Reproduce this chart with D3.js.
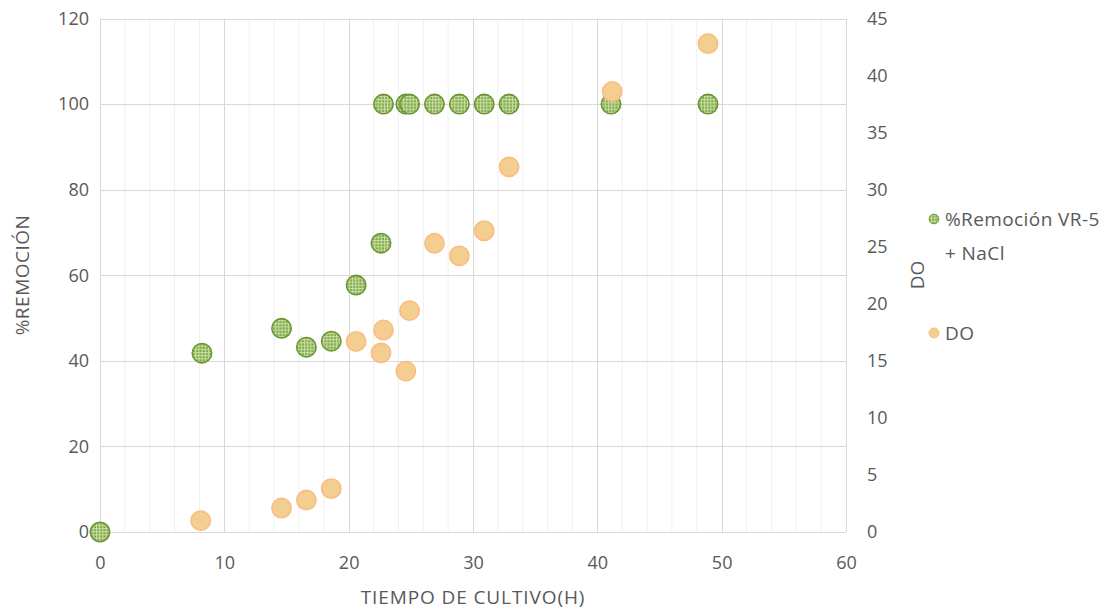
<!DOCTYPE html>
<html>
<head>
<meta charset="utf-8">
<script src="https://cdn.jsdelivr.net/npm/d3@7"></script>
<style>
  html, body { margin: 0; padding: 0; background: #ffffff; }
  svg { display: block; }
  text { font-family: "Open Sans", "Liberation Sans", sans-serif; fill: #595959; }
</style>
</head>
<body>
<svg id="chart" width="1118" height="609"></svg>
<script>
// Tiempo de cultivo (h) y % de remoción VR-5 + NaCl
const horasRemocion = [0, 8.2, 14.6, 16.6, 18.6, 20.6, 22.6, 22.8, 24.6, 24.9, 26.9, 28.9, 30.9, 32.9, 41.1, 48.9];
const remocion      = [0, 41.8, 47.6, 43.2, 44.6, 57.7, 67.5, 100, 100, 100, 100, 100, 100, 100, 100, 100];

// Tiempo de cultivo (h) y densidad óptica (DO)
const horasDO = [8.1, 14.6, 16.6, 18.6, 20.6, 22.6, 22.8, 24.6, 24.9, 26.9, 28.9, 30.9, 32.9, 41.2, 48.9];
const densidad = [1.0, 2.1, 2.8, 3.8, 16.7, 15.7, 17.7, 14.1, 19.4, 25.3, 24.2, 26.4, 32.0, 38.6, 42.8];

const xTicks = [0, 10, 20, 30, 40, 50, 60];
const yLeftTicks = [0, 20, 40, 60, 80, 100, 120];
const yRightTicks = [0, 5, 10, 15, 20, 25, 30, 35, 40, 45];

const seriesNames = ["%Remoción VR-5", "+ NaCl", "DO"];

const svg = d3.select("#chart");
const plot = { left: 100, right: 846, top: 18.5, bottom: 532 };

const x = d3.scaleLinear().domain([0, 60]).range([plot.left, plot.right]);
const yL = d3.scaleLinear().domain([0, 120]).range([plot.bottom, plot.top]);
const yR = d3.scaleLinear().domain([0, 45]).range([plot.bottom, plot.top]);

// Textured fill for the removal markers
const defs = svg.append("defs");
const pat = defs.append("pattern")
  .attr("id", "malla").attr("patternUnits", "userSpaceOnUse")
  .attr("width", 3.2).attr("height", 3.2);
pat.append("rect").attr("width", 3.2).attr("height", 3.2).attr("fill", "#84ac4c");
pat.append("rect").attr("x", 0).attr("y", 0).attr("width", 3.2).attr("height", 1).attr("fill", "#c9dea6");
pat.append("rect").attr("x", 0).attr("y", 0).attr("width", 1).attr("height", 3.2).attr("fill", "#c9dea6");

// Minor vertical gridlines
const g = svg.append("g");
g.selectAll("line.minor")
  .data(d3.range(0, 61, 2).filter(v => v % 10 !== 0))
  .join("line")
  .attr("x1", d => x(d)).attr("x2", d => x(d))
  .attr("y1", plot.top).attr("y2", plot.bottom)
  .attr("stroke", "#f0f0f0").attr("stroke-width", 1);

// Major gridlines
g.selectAll("line.vmajor")
  .data(xTicks)
  .join("line")
  .attr("x1", d => Math.round(x(d)) + 0.5).attr("x2", d => Math.round(x(d)) + 0.5)
  .attr("y1", plot.top).attr("y2", plot.bottom)
  .attr("stroke", "#d9d9d9").attr("stroke-width", 1);

svg.append("g").selectAll("line")
  .data(yLeftTicks)
  .join("line")
  .attr("x1", plot.left).attr("x2", plot.right)
  .attr("y1", d => Math.round(yL(d)) + 0.5).attr("y2", d => Math.round(yL(d)) + 0.5)
  .attr("stroke", "#d9d9d9").attr("stroke-width", 1);

// Axes (labels only, lines come from the grid)
const axBottom = svg.append("g")
  .attr("transform", `translate(0,${plot.bottom})`)
  .call(d3.axisBottom(x).tickValues(xTicks).tickSize(0).tickPadding(24));
const axLeft = svg.append("g")
  .attr("transform", `translate(${plot.left},0)`)
  .call(d3.axisLeft(yL).tickValues(yLeftTicks).tickSize(0).tickPadding(11));
const axRight = svg.append("g")
  .attr("transform", `translate(${plot.right},0)`)
  .call(d3.axisRight(yR).tickValues(yRightTicks).tickSize(0).tickPadding(21));
[axBottom, axLeft, axRight].forEach(a => {
  a.select(".domain").remove();
  a.selectAll("text").style("font-size", "18px").attr("fill", "#595959")
    .style("font-family", "'Open Sans', 'Liberation Sans', sans-serif");
});

// Axis titles
svg.append("text")
  .attr("x", x(30)).attr("y", 604)
  .attr("text-anchor", "middle").style("font-size", "19px").style("letter-spacing", "0.9px")
  .text("TIEMPO DE CULTIVO(H)");
svg.append("text")
  .attr("transform", `translate(29,${275}) rotate(-90)`)
  .attr("text-anchor", "middle").style("font-size", "19px").style("letter-spacing", "0.5px")
  .text("%REMOCIÓN");
svg.append("text")
  .attr("transform", `translate(924,${275}) rotate(-90)`)
  .attr("text-anchor", "middle").style("font-size", "19px")
  .text("DO");

// Removal series
svg.append("g").selectAll("circle")
  .data(horasRemocion.map((h, i) => [h, remocion[i]]))
  .join("circle")
  .attr("cx", d => x(d[0])).attr("cy", d => yL(d[1]))
  .attr("r", 9.7)
  .attr("fill", "url(#malla)")
  .attr("stroke", "#6a9632").attr("stroke-width", 1.6);

// Optical density series
svg.append("g").selectAll("circle")
  .data(horasDO.map((h, i) => [h, densidad[i]]))
  .join("circle")
  .attr("cx", d => x(d[0])).attr("cy", d => yR(d[1]))
  .attr("r", 9.7)
  .attr("fill", "#f4cd90")
  .attr("stroke", "#f8bd82").attr("stroke-width", 1.5);

// Legend
const lg = svg.append("g");
lg.append("circle").attr("cx", 934).attr("cy", 219).attr("r", 4.8)
  .attr("fill", "url(#malla)").attr("stroke", "#6a9632").attr("stroke-width", 1);
lg.append("text").attr("x", 945).attr("y", 226).style("font-size", "19px").style("letter-spacing", "0.4px").text(seriesNames[0]);
lg.append("text").attr("x", 945).attr("y", 260).style("font-size", "19px").style("letter-spacing", "0.4px").text(seriesNames[1]);
lg.append("circle").attr("cx", 934).attr("cy", 333).attr("r", 5)
  .attr("fill", "#f4cd90").attr("stroke", "#f8bd82").attr("stroke-width", 1);
lg.append("text").attr("x", 945).attr("y", 340).style("font-size", "19px").style("letter-spacing", "0.4px").text(seriesNames[2]);
</script>
</body>
</html>
